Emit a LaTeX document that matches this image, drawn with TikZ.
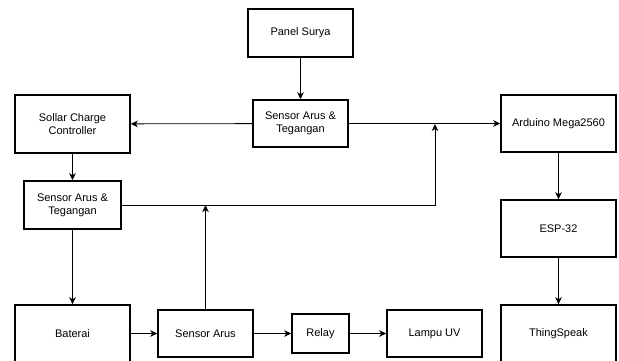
\documentclass[tikz,border=0pt]{standalone}
\usepackage{fontspec}
\setmainfont{Liberation Sans}
\usepackage{tikz}
\usetikzlibrary{arrows.meta}

\tikzset{
  blok/.style={draw, line width=1.5pt, align=center, inner sep=1pt,
    font=\fontsize{11}{13}\selectfont},
  panah/.style={-{Stealth[length=7pt,width=6.5pt,inset=2pt]}, line width=0.8pt}
}

\begin{document}
\begin{tikzpicture}[x=1pt,y=-1pt]
\useasboundingbox (0,0) rectangle (619,360);
\clip (0,0) rectangle (619,360);

\coordinate (j1) at (435,124);
\coordinate (j2) at (205.5,205);

\node[blok, minimum width=105pt, minimum height=48pt] (panel) at (300.5,33) {Panel Surya};
\node[blok, minimum width=95pt, minimum height=47pt] (sensatas) at (300.5,123.5) {Sensor Arus \&\\Tegangan};
\node[blok, minimum width=115pt, minimum height=58pt] (scc) at (72.5,124) {Sollar Charge\\Controller};
\node[blok, minimum width=115pt, minimum height=57pt] (arduino) at (558.5,123.5) {Arduino Mega2560};
\node[blok, minimum width=115pt, minimum height=57pt] (esp) at (558.5,228.5) {ESP-32};
\node[blok, minimum width=115pt, minimum height=57pt] (thing) at (558.5,333.5) {ThingSpeak};
\node[blok, minimum width=97pt, minimum height=48pt] (senskiri) at (72.5,205) {Sensor Arus \&\\Tegangan};
\node[blok, minimum width=115pt, minimum height=57pt] (baterai) at (72.5,333.5) {Baterai};
\node[blok, minimum width=95pt, minimum height=47pt] (sensarus) at (205.5,333.5) {Sensor Arus};
\node[blok, minimum width=57pt, minimum height=39pt] (relay) at (320.5,333.5) {Relay};
\node[blok, minimum width=95pt, minimum height=47pt] (lampu) at (434.5,333.5) {Lampu UV};

\draw[panah] (panel) -- (sensatas);
\draw[panah] (sensatas) -- (scc);
\draw[panah] (sensatas) -- (arduino);
\draw[panah] (senskiri.east) -| (j1);
\draw[panah] (sensarus) -- (j2);
\draw[panah] (scc) -- (senskiri);
\draw[panah] (senskiri) -- (baterai);
\draw[panah] (baterai) -- (sensarus);
\draw[panah] (sensarus) -- (relay);
\draw[panah] (relay) -- (lampu);
\draw[panah] (arduino) -- (esp);
\draw[panah] (esp) -- (thing);
\end{tikzpicture}
\end{document}
